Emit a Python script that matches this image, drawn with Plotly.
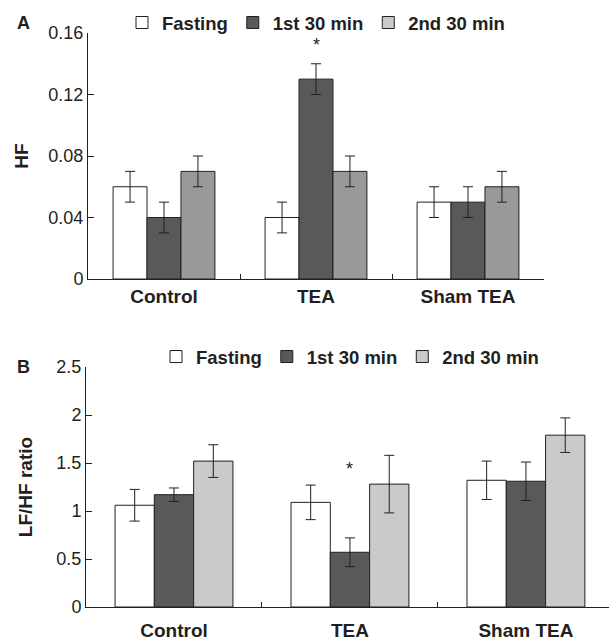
import plotly.graph_objects as go

categories = ["Control", "TEA", "Sham TEA"]
series = ["Fasting", "1st 30 min", "2nd 30 min"]

hf_fasting = [0.06, 0.04, 0.05]
hf_first = [0.04, 0.13, 0.05]
hf_second = [0.07, 0.07, 0.06]
hf_fasting_err = [0.01, 0.01, 0.01]
hf_first_err = [0.01, 0.01, 0.01]
hf_second_err = [0.01, 0.01, 0.01]

ratio_fasting = [1.06, 1.09, 1.32]
ratio_first = [1.17, 0.57, 1.31]
ratio_second = [1.52, 1.28, 1.79]
ratio_fasting_err = [0.165, 0.18, 0.20]
ratio_first_err = [0.07, 0.15, 0.20]
ratio_second_err = [0.17, 0.30, 0.18]

hf_ticks = [0, 0.04, 0.08, 0.12, 0.16]
hf_ticklabels = ["0", "0.04", "0.08", "0.12", "0.16"]
ratio_ticks = [0, 0.5, 1, 1.5, 2, 2.5]
ratio_ticklabels = ["0", "0.5", "1", "1.5", "2", "2.5"]

star_hf = 0.152
star_ratio = 1.44

W, H = 609, 640
INK = "#231f20"
FONT = "Liberation Sans, Arial, Helvetica, sans-serif"
col_white = "#ffffff"
col_dark = "#58595b"
col_mid = "#98999b"
col_light = "#c9cacc"

fig = go.Figure()

def add_bars(xa, ya, vals, errs, colors, legend, showlegend, with_err=True):
    for name, v, e, c in zip(series, vals, errs, colors):
        fig.add_trace(go.Bar(
            x=categories, y=v, name=name,
            marker=dict(color=c, line=dict(color=INK, width=1)),
            error_y=dict(type="data", array=e, color=INK, thickness=1, width=5, visible=with_err),
            xaxis=xa, yaxis=ya, legend=legend, showlegend=showlegend,
        ))

add_bars("x", "y", [hf_fasting, hf_first, hf_second],
         [hf_fasting_err, hf_first_err, hf_second_err],
         [col_white, col_dark, col_mid], "legend", False)

# legend entries for panel A: same data on a hidden, out-of-view axis pair
add_bars("x3", "y3", [hf_fasting, hf_first, hf_second],
         [hf_fasting_err, hf_first_err, hf_second_err],
         [col_white, col_dark, col_light], "legend", True, with_err=False)

add_bars("x2", "y2", [ratio_fasting, ratio_first, ratio_second],
         [ratio_fasting_err, ratio_first_err, ratio_second_err],
         [col_white, col_dark, col_light], "legend2", True)

def px_x(p):
    return p / W

def px_y(p):
    return 1 - p / H

axis_common = dict(showline=True, linecolor=INK, linewidth=1, showgrid=False,
                   zeroline=False, ticks="inside", tickcolor=INK, tickwidth=1,
                   automargin=False)

legend_common = dict(orientation="h", font=dict(family=FONT, size=18.5, color=INK, weight="bold"),
                     bgcolor="rgba(0,0,0,0)", xanchor="center", yanchor="middle",
                     itemclick=False, itemdoubleclick=False, tracegroupgap=0)

fig.update_layout(
    width=W, height=H,
    margin=dict(l=0, r=0, t=0, b=0),
    paper_bgcolor="white", plot_bgcolor="white",
    font=dict(family=FONT, color=INK),
    barmode="group", bargap=0.33, bargroupgap=0,
    showlegend=True,
    hovermode=False,
    legend=dict(x=px_x(316), y=px_y(23), **legend_common),
    legend2=dict(x=px_x(350), y=px_y(357), **legend_common),
    xaxis=dict(domain=[px_x(88), px_x(544)], anchor="y", range=[-0.5, 2.5],
               tickson="boundaries", ticklen=5,
               tickfont=dict(family=FONT, size=19, color=INK, weight="bold"),
               **axis_common),
    yaxis=dict(domain=[px_y(279), px_y(33)], anchor="x", range=[0, 0.16],
               tickvals=hf_ticks, ticktext=hf_ticklabels, ticklen=6,
               tickfont=dict(family=FONT, size=18, color=INK),
               title=dict(text="HF", font=dict(family=FONT, size=19, color=INK, weight="bold"),
                          standoff=14),
               **axis_common),
    xaxis2=dict(domain=[px_x(86), 1], anchor="y2", range=[-0.5, 2.472],
                tickson="boundaries", ticklen=5, ticklabelstandoff=6,
                tickfont=dict(family=FONT, size=19, color=INK, weight="bold"),
                **axis_common),
    yaxis2=dict(domain=[px_y(607), px_y(367)], anchor="x2", range=[0, 2.5],
                tickvals=ratio_ticks, ticktext=ratio_ticklabels, ticklen=6,
                tickfont=dict(family=FONT, size=18, color=INK),
                title=dict(text="LF/HF ratio", font=dict(family=FONT, size=19, color=INK, weight="bold"),
                           standoff=18),
                **axis_common),
    xaxis3=dict(domain=[0, 0.01], anchor="y3", visible=False, automargin=False),
    yaxis3=dict(domain=[0, 0.01], anchor="x3", visible=False, automargin=False, range=[10, 11]),
)

fig.add_annotation(x="TEA", y=star_hf, xref="x", yref="y", text="*", showarrow=False,
                   font=dict(family=FONT, size=18, color=INK))
fig.add_annotation(x="TEA", y=star_ratio, xref="x2", yref="y2", text="*", showarrow=False,
                   font=dict(family=FONT, size=18, color=INK))
fig.add_annotation(x=px_x(23), y=px_y(23), xref="paper", yref="paper", text="<b>A</b>",
                   xanchor="center", yanchor="middle",
                   showarrow=False, font=dict(family=FONT, size=18, color=INK))
fig.add_annotation(x=px_x(23), y=px_y(367), xref="paper", yref="paper", text="<b>B</b>",
                   xanchor="center", yanchor="middle",
                   showarrow=False, font=dict(family=FONT, size=18, color=INK))

fig.write_html("out.html", config={"displayModeBar": False},
               post_script="document.body.style.margin='0';")
